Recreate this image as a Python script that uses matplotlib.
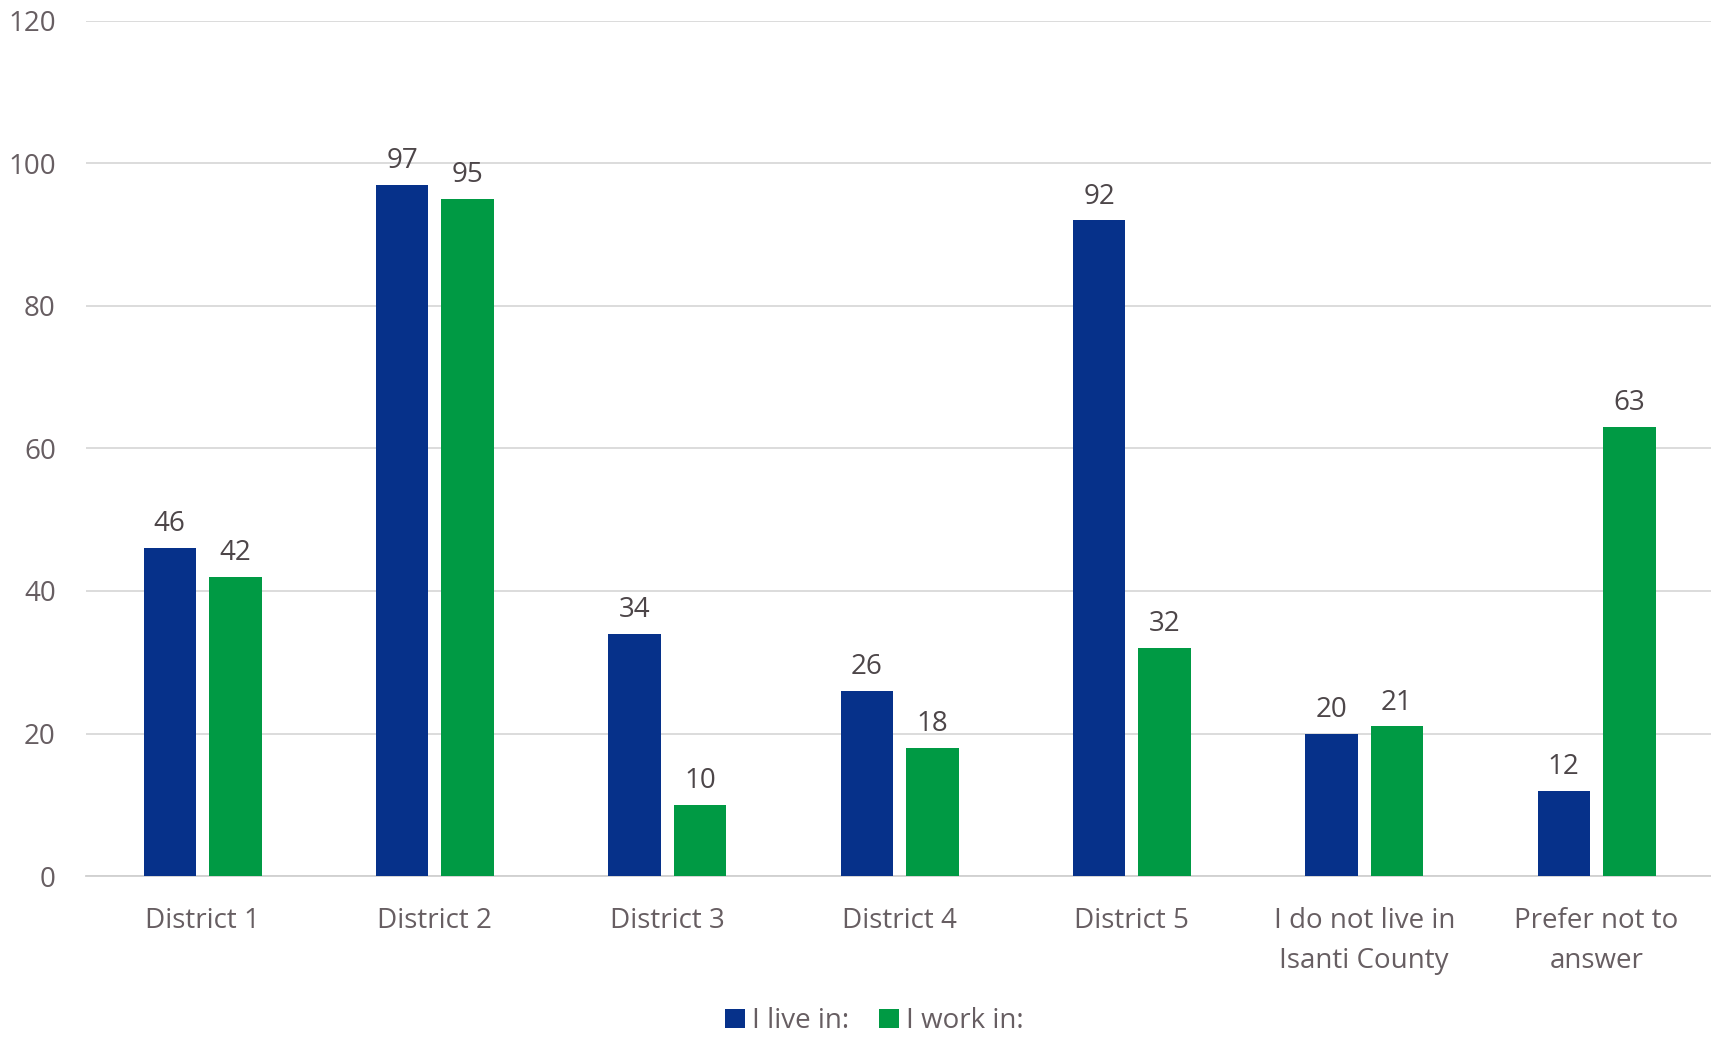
import matplotlib
matplotlib.use("Agg")
import matplotlib.pyplot as plt
import numpy as np

categories = ["District 1", "District 2", "District 3", "District 4", "District 5",
              "I do not live in\nIsanti County", "Prefer not to\nanswer"]
live_in = [46, 97, 34, 26, 92, 20, 12]
work_in = [42, 95, 10, 18, 32, 21, 63]
series_names = ["I live in:", "I work in:"]
yticks = [0, 20, 40, 60, 80, 100, 120]

plt.rcParams['font.family'] = ['Open Sans', 'DejaVu Sans']
text_color = "#675e62"
blue = "#06318A"
green = "#009A44"
fs = 20

fig = plt.figure(figsize=(17.11, 10.38), dpi=100)
ax = fig.add_axes([0.0505, 0.156, 0.9505, 0.824])

x = np.arange(len(categories))
w = 0.226
off = 0.141
b1 = ax.bar(x - off, live_in, width=w, color=blue, label=series_names[0], zorder=3)
b2 = ax.bar(x + off, work_in, width=w, color=green, label=series_names[1], zorder=3)

for bars in (b1, b2):
    for r in bars:
        ax.annotate(f"{int(r.get_height())}", (r.get_x() + r.get_width() / 2, r.get_height()),
                    xytext=(0, 7), textcoords="offset points", ha="center", va="bottom",
                    fontsize=fs, color="#4d4649")

ax.set_xlim(-0.5, len(categories) - 0.5)
ax.set_ylim(0, 120)
ax.set_yticks(yticks)
ax.yaxis.grid(True, color="#d9d9d9", linewidth=1.3, zorder=0)
ax.set_axisbelow(True)
for s in ["top", "right", "left"]:
    ax.spines[s].set_visible(False)
ax.spines["bottom"].set_color("#d0d0d0")
ax.spines["bottom"].set_linewidth(1.3)
ax.tick_params(axis="both", length=0, labelsize=fs, colors=text_color)
ax.tick_params(axis="y", pad=22)
ax.tick_params(axis="x", pad=22)
ax.set_xticks(x)
ax.set_xticklabels(categories, linespacing=1.6)

fig.legend(loc="center", bbox_to_anchor=(0.511, 0.016), ncol=2, frameon=False,
           fontsize=fs, labelcolor=text_color, handlelength=0.7, handleheight=0.7,
           handletextpad=0.25, columnspacing=1.1)

fig.savefig("out.png", dpi=100)
